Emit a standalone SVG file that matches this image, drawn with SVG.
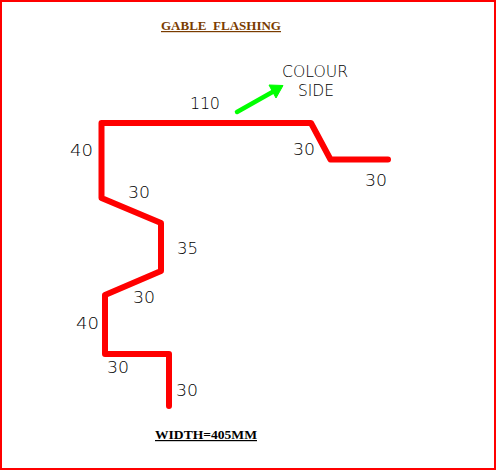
<svg xmlns="http://www.w3.org/2000/svg" width="496" height="470" viewBox="0 0 496 470">
<style>
.dim{font-family:"DejaVu Sans","Liberation Sans",sans-serif;font-weight:200;font-size:16px;fill:#000}
.ttl{font-family:"Liberation Serif",serif;font-weight:700;font-size:12px;text-decoration:underline}
.profile{fill:none;stroke:#f00;stroke-width:6;stroke-linejoin:round;stroke-linecap:round}
</style>
<rect x="1" y="1" width="494" height="468" fill="#fff" stroke="#f00" stroke-width="2"/>
<g id="connectors">
<path id="profile" class="profile" d="M388 159.500H330.500L311 123H101.500V198L161 223V271L105 295V354H169V406"/>
<path id="arrow-shaft" d="M237 112L276 90" fill="none" stroke="#0f0" stroke-width="4.500" stroke-linecap="round"/>
<path id="arrow-head" d="M269 85L283 85.500L276 98Z" fill="#0f0" stroke="#0f0" stroke-linejoin="round"/>
</g>
<g id="title"><text class="ttl" x="161" y="30" fill="#7a3c00" textLength="120" lengthAdjust="spacingAndGlyphs">GABLE&#160;&#160;FLASHING</text></g>
<g id="colour-side"><text class="dim" x="282" y="77" textLength="66" lengthAdjust="spacingAndGlyphs">COLOUR</text><text class="dim" x="298" y="96" textLength="36" lengthAdjust="spacingAndGlyphs">SIDE</text></g>
<g id="dimensions">
<text class="dim" x="190" y="109" textLength="30">110</text>
<text class="dim" x="70" y="156" textLength="23" lengthAdjust="spacingAndGlyphs">40</text>
<text class="dim" x="293" y="155" textLength="22" lengthAdjust="spacingAndGlyphs">30</text>
<text class="dim" x="365" y="186" textLength="22" lengthAdjust="spacingAndGlyphs">30</text>
<text class="dim" x="128" y="198" textLength="22" lengthAdjust="spacingAndGlyphs">30</text>
<text class="dim" x="177" y="254" textLength="21" lengthAdjust="spacingAndGlyphs">35</text>
<text class="dim" x="133" y="303" textLength="22" lengthAdjust="spacingAndGlyphs">30</text>
<text class="dim" x="76" y="329" textLength="23" lengthAdjust="spacingAndGlyphs">40</text>
<text class="dim" x="107" y="373" textLength="22" lengthAdjust="spacingAndGlyphs">30</text>
<text class="dim" x="176" y="396" textLength="22" lengthAdjust="spacingAndGlyphs">30</text>
</g>
<g id="width"><text class="ttl" x="155" y="439" fill="#000" textLength="102" lengthAdjust="spacingAndGlyphs">WIDTH=405MM</text></g>
</svg>
